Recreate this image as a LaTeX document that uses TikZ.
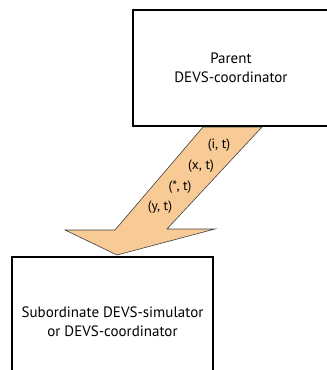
\documentclass[tikz,border=0pt]{standalone}
\usepackage{fontspec}
\setmainfont{PT Sans}
\usetikzlibrary{shapes,arrows}
\definecolor{peach}{RGB}{248,202,150}

\begin{document}
\begin{tikzpicture}[x=1pt,y=-1pt]
\tikzset{
block/.style={rectangle,draw=black,fill=white,line width=2pt,align=center,
font=\fontsize{15}{18.5}\selectfont},
msgarrow/.style={draw=black!75,fill=peach,line width=0.6pt,line join=miter},
msglabel/.style={font=\fontsize{13.5}{14}\selectfont,inner sep=0pt},
}
\useasboundingbox (0,0) rectangle (327,370);
\clip (0,0) rectangle (327,370);

\coordinate (shaftl) at (203,127);
\coordinate (shaftr) at (262,127);
\coordinate (notchr) at (167,229);
\coordinate (barbr) at (215,229);
\coordinate (tip) at (117,255);
\coordinate (barbl) at (65,230);
\coordinate (notchl) at (115,230);
\draw[msgarrow] (shaftl) -- (shaftr) -- (notchr) -- (barbr) -- (tip) -- (barbl) -- (notchl) -- cycle;

\node [block, minimum width=196pt, minimum height=116pt] (parent) at (231,68) {Parent\\DEVS-coordinator};
\node [block, minimum width=201pt, minimum height=129pt] (sub) at (112.5,321.5) {Subordinate DEVS-simulator\\or DEVS-coordinator};

\node [msglabel] (it) at (219,145) {(i, t)};
\node [msglabel] (xt) at (201,166) {(x, t)};
\node [msglabel] (st) at (180,187) {(*, t)};
\node [msglabel] (yt) at (160,207) {(y, t)};
\end{tikzpicture}
\end{document}
